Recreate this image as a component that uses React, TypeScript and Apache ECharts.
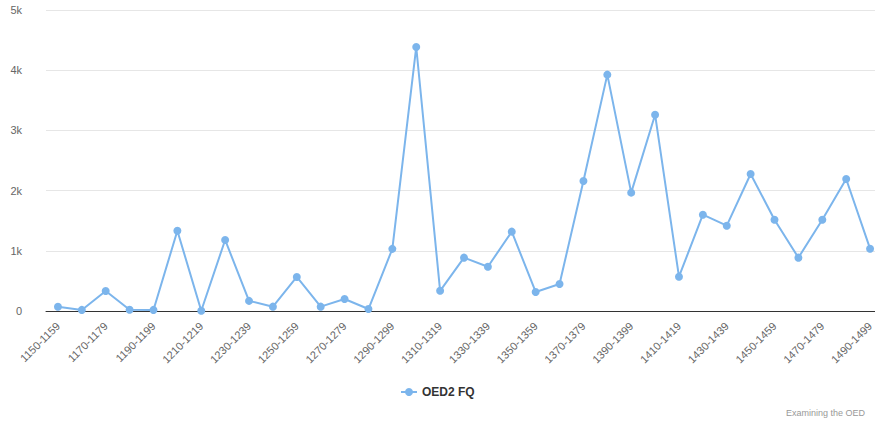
import React, { useEffect, useRef } from "react";
import * as echarts from "echarts";

const categories = [
  "1150-1159","1160-1169","1170-1179","1180-1189","1190-1199","1200-1209","1210-1219",
  "1220-1229","1230-1239","1240-1249","1250-1259","1260-1269","1270-1279","1280-1289",
  "1290-1299","1300-1309","1310-1319","1320-1329","1330-1339","1340-1349","1350-1359",
  "1360-1369","1370-1379","1380-1389","1390-1399","1400-1409","1410-1419","1420-1429",
  "1430-1439","1440-1449","1450-1459","1460-1469","1470-1479","1480-1489","1490-1499",
];

const oed2fq = [
  70, 18, 332, 20, 18, 1333, 5, 1180, 168, 72, 566, 72, 200, 33, 1032, 4385, 335,
  886, 736, 1318, 316, 449, 2160, 3926, 1966, 3261, 570, 1600, 1417, 2276, 1517,
  886, 1517, 2193, 1035,
];

const seriesName = "OED2 FQ";
const credits = "Examining the OED";
const FONT = '"Liberation Sans", Arial, Helvetica, sans-serif';

export default function App() {
  const ref = useRef<HTMLDivElement>(null);
  useEffect(() => {
    if (!ref.current) return;
    const chart = echarts.init(ref.current, undefined, { renderer: "svg" });
    chart.setOption({
      animation: false,
      textStyle: { fontFamily: FONT },
      grid: { left: 46, right: 8, top: 10, height: 301, containLabel: false },
      legend: {
        data: [seriesName],
        top: 381,
        left: 395,
        itemWidth: 16,
        itemHeight: 10,
        textStyle: { fontSize: 12, fontWeight: "bold", color: "#333", fontFamily: FONT },
      },
      xAxis: {
        type: "category",
        data: categories,
        boundaryGap: true,
        axisLine: { lineStyle: { color: "#333", width: 1 } },
        axisTick: { show: false },
        axisLabel: {
          rotate: 45,
          interval: 1,
          fontSize: 11,
          color: "#666",
          fontFamily: FONT,
          margin: 13,
        },
      },
      yAxis: {
        type: "value",
        min: 0,
        max: 5000,
        interval: 1000,
        axisLine: { show: false },
        axisTick: { show: false },
        splitLine: { lineStyle: { color: "#e6e6e6", width: 1 } },
        axisLabel: {
          fontSize: 11,
          color: "#666",
          fontFamily: FONT,
          margin: 24,
          formatter: (v: number) => (v === 0 ? "0" : v / 1000 + "k"),
        },
      },
      series: [
        {
          name: seriesName,
          type: "line",
          data: oed2fq,
          symbol: "circle",
          symbolSize: 8,
          showAllSymbol: true,
          lineStyle: { color: "#7cb5ec", width: 2 },
          itemStyle: { color: "#7cb5ec" },
        },
      ],
      graphic: [
        {
          type: "text",
          right: 25,
          bottom: 4,
          style: { text: credits, fontSize: 9, fill: "#999", fontFamily: FONT },
        },
      ],
    });
    return () => chart.dispose();
  }, []);
  return (
    <div style={{ position: "fixed", left: 0, top: 0, width: 875, height: 421, overflow: "hidden", background: "#fff" }}>
      <div ref={ref} style={{ position: "absolute", left: 0, top: 0, width: 890, height: 421 }} />
    </div>
  );
}
